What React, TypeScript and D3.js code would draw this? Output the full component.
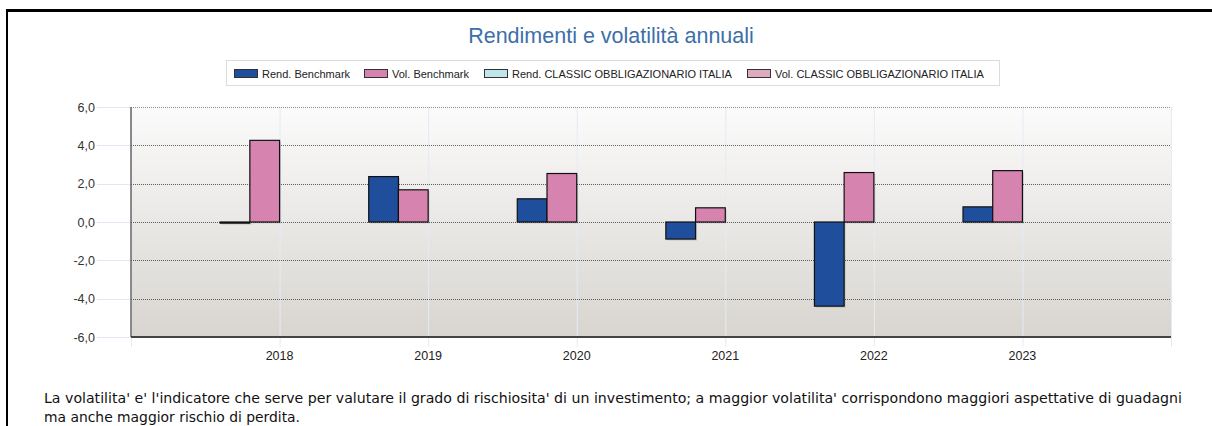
import React from "react";
import * as d3 from "d3";

const years = ["2018", "2019", "2020", "2021", "2022", "2023"];
const seriesNames = [
  "Rend. Benchmark",
  "Vol. Benchmark",
  "Rend. CLASSIC OBBLIGAZIONARIO ITALIA",
  "Vol. CLASSIC OBBLIGAZIONARIO ITALIA",
];
const seriesColors = ["#1f4e9c", "#d684af", "#bfe6ea", "#deaabd"];
const rendBenchmark = [-0.06, 2.37, 1.21, -0.89, -4.39, 0.79];
const volBenchmark = [4.26, 1.68, 2.53, 0.74, 2.58, 2.68];
const rendClassic: (number | null)[] = [null, null, null, null, null, null];
const volClassic: (number | null)[] = [null, null, null, null, null, null];
const yTicks = [-6, -4, -2, 0, 2, 4, 6];

const W = 1212;
const H = 426;
const plot = { left: 131, right: 1171, top: 107, bottom: 337 };

export default function App() {
  const x = d3
    .scaleBand<string>()
    .domain(years)
    .range([plot.left, plot.right])
    .paddingInner(0)
    .paddingOuter(0.5);
  const step = x.step();
  const sub = d3
    .scaleBand<string>()
    .domain(seriesNames)
    .range([-0.4 * step, 0.4 * step]);
  const y = d3.scaleLinear().domain([-6, 6]).range([plot.bottom, plot.top]);
  const fmt = (v: number) => d3.format(".1f")(v).replace(".", ",").replace("−", "-");
  const allSeries = [rendBenchmark, volBenchmark, rendClassic, volClassic];
  const center = (yr: string) => (x(yr) as number) + x.bandwidth() / 2;
  const legendX = [234, 364, 484, 747];

  return (
    <div style={{ position: "absolute", left: 0, top: 0 }}>
      <svg width={W} height={H} style={{ display: "block" }}>
        <defs>
          <linearGradient id="bg" x1="0" y1="0" x2="0" y2="1">
            <stop offset="0" stopColor="#fbfbfb" />
            <stop offset="1" stopColor="#d8d5d0" />
          </linearGradient>
        </defs>
        <rect width={W} height={H} fill="#fff" />
        {/* frame */}
        <line x1={7} x2={W} y1={10.5} y2={10.5} stroke="#000" strokeWidth={3} />
        <line x1={7} x2={7} y1={9} y2={H} stroke="#000" strokeWidth={2} />

        <text
          x={611}
          y={43}
          textAnchor="middle"
          fontFamily="Liberation Sans, Arial, sans-serif"
          fontSize={21.5}
          fill="#3d6fa8"
        >
          Rendimenti e volatilità annuali
        </text>

        {/* legend */}
        <rect x={226.5} y={60.5} width={773} height={25} fill="#fff" stroke="#dcdcdc" />
        {seriesNames.map((s, i) => (
          <g key={s}>
            <rect
              x={legendX[i] + 0.5}
              y={69.5}
              width={23}
              height={8}
              fill={seriesColors[i]}
              stroke="#333"
            />
            <text
              x={legendX[i] + 28}
              y={77.5}
              fontFamily="Liberation Sans, Arial, sans-serif"
              fontSize={11}
              fill="#222"
            >
              {s}
            </text>
          </g>
        ))}

        {/* plot background */}
        <rect
          x={plot.left}
          y={plot.top}
          width={plot.right - plot.left}
          height={plot.bottom - plot.top}
          fill="url(#bg)"
        />

        {/* light vertical grid + ticks */}
        {[plot.left, ...years.map(center), plot.right].map((vx, i) => (
          <line
            key={"vg" + i}
            x1={vx + 0.5}
            x2={vx + 0.5}
            y1={plot.top}
            y2={plot.bottom + 10}
            stroke="#e3ebf6"
            strokeWidth={1}
          />
        ))}

        {/* y ticks, grid, labels */}
        {yTicks.map((t) => (
          <g key={"y" + t}>
            <line
              x1={97}
              x2={plot.left}
              y1={Math.round(y(t)) + 0.5}
              y2={Math.round(y(t)) + 0.5}
              stroke="#dfe8f4"
            />
            {t !== -6 && (
              <line
                x1={plot.left}
                x2={plot.right}
                y1={Math.round(y(t)) + 0.5}
                y2={Math.round(y(t)) + 0.5}
                stroke="#444"
                strokeDasharray="1,1"
                strokeOpacity={t === 6 ? 0.6 : 0.85}
              />
            )}
            <text
              x={95}
              y={y(t) + 4.5}
              textAnchor="end"
              fontFamily="Liberation Sans, Arial, sans-serif"
              fontSize={12.5}
              fill="#333"
            >
              {fmt(t)}
            </text>
          </g>
        ))}

        {/* bars */}
        {allSeries.map((vals, si) =>
          vals.map((v, i) => {
            if (v === null) return null;
            const bx = center(years[i]) + (sub(seriesNames[si]) as number);
            const bw = sub.bandwidth();
            const y0 = y(0);
            const y1 = y(v);
            const top = Math.min(y0, y1);
            const h = Math.max(Math.abs(y1 - y0), 1);
            return (
              <g key={"b" + si + "-" + i}>
                <rect
                  x={bx + 1.5}
                  y={top + 1.5}
                  width={bw}
                  height={h}
                  fill="#000"
                  fillOpacity={0.12}
                />
                <rect
                  x={bx}
                  y={top}
                  width={bw}
                  height={h}
                  fill={seriesColors[si]}
                  stroke="#111"
                  strokeWidth={1.2}
                />
              </g>
            );
          })
        )}

        {/* axes */}
        <line x1={plot.left} x2={plot.left} y1={plot.top} y2={plot.bottom} stroke="#666" strokeWidth={1.5} />
        <line x1={plot.left} x2={plot.right} y1={plot.bottom} y2={plot.bottom} stroke="#444" strokeWidth={2} />

        {/* x labels */}
        {years.map((yr) => (
          <text
            key={"x" + yr}
            x={center(yr)}
            y={360}
            textAnchor="middle"
            fontFamily="Liberation Sans, Arial, sans-serif"
            fontSize={12.5}
            fill="#222"
          >
            {yr}
          </text>
        ))}

        {/* footer note */}
        <text
          x={44}
          y={403}
          fontFamily="DejaVu Sans Condensed, DejaVu Sans, sans-serif"
          fontSize={14}
          fill="#111"
          textLength={1138}
          lengthAdjust="spacingAndGlyphs"
        >
          La volatilita' e' l'indicatore che serve per valutare il grado di rischiosita' di un investimento; a maggior volatilita' corrispondono maggiori aspettative di guadagni
        </text>
        <text
          x={44}
          y={422}
          fontFamily="DejaVu Sans Condensed, DejaVu Sans, sans-serif"
          fontSize={14}
          fill="#111"
          textLength={256}
          lengthAdjust="spacingAndGlyphs"
        >
          ma anche maggior rischio di perdita.
        </text>
      </svg>
    </div>
  );
}
